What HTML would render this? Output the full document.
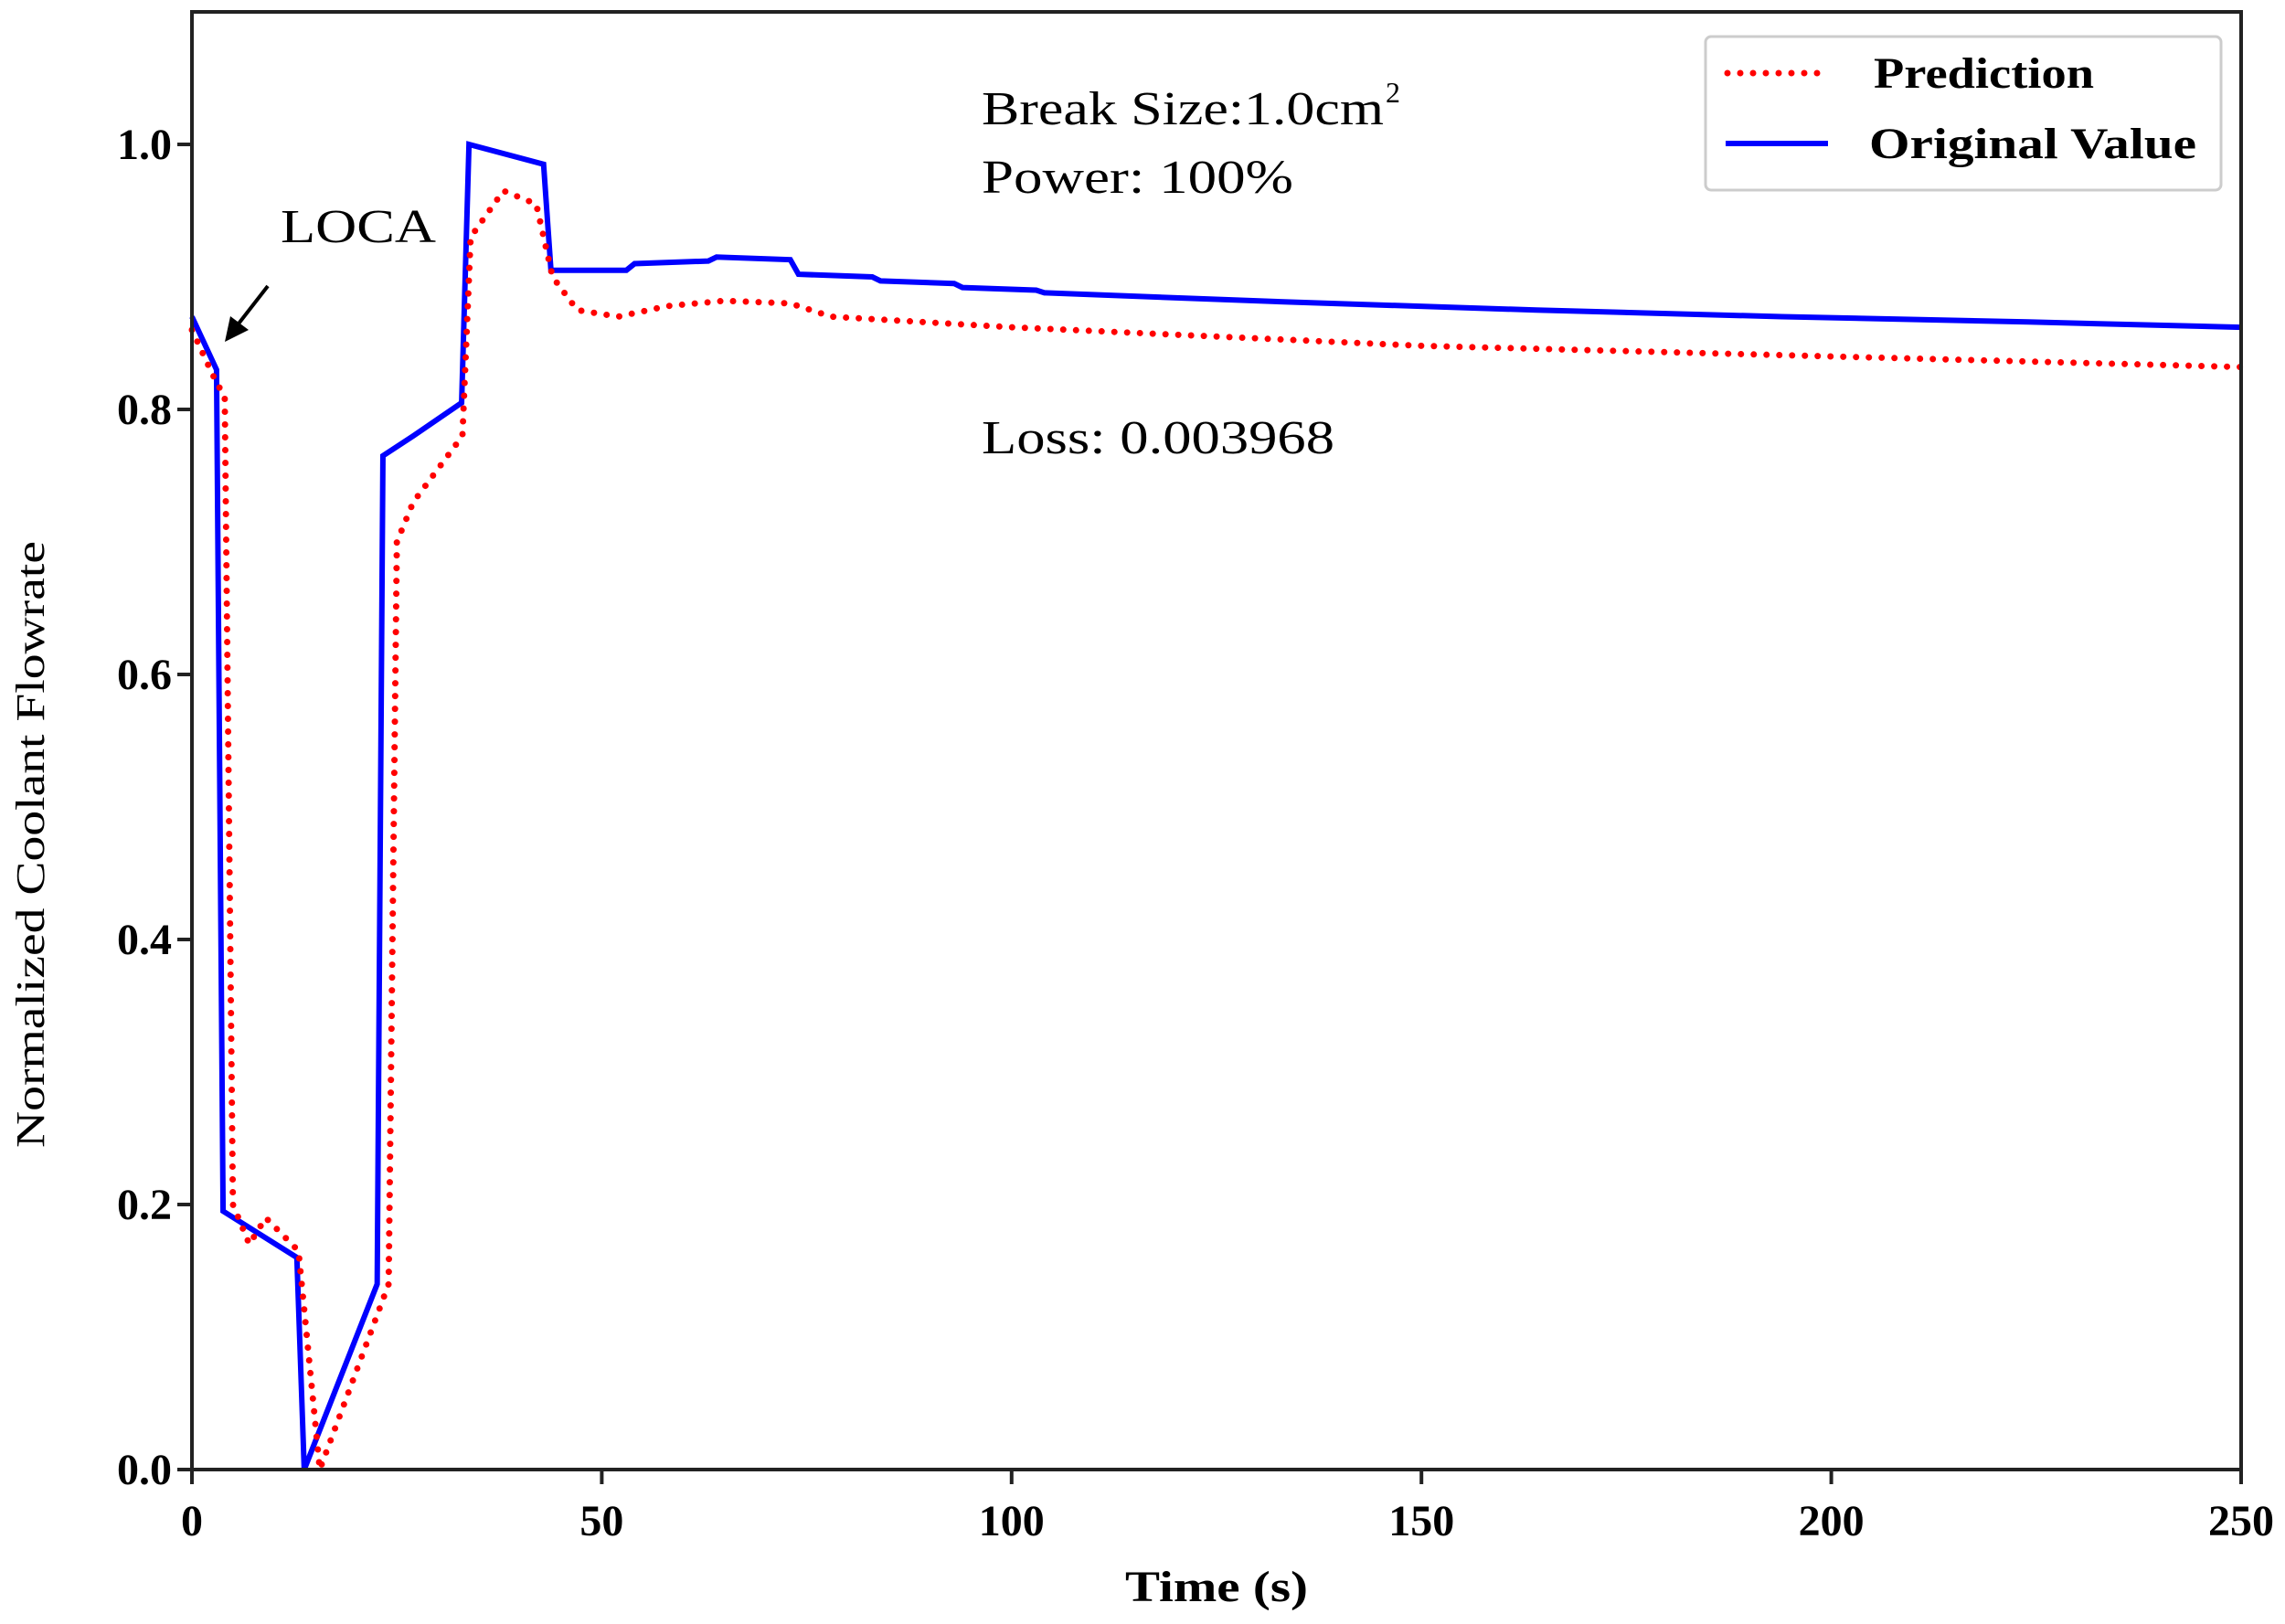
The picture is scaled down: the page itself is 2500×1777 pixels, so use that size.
<!DOCTYPE html>
<html><head><meta charset="utf-8"><style>
html,body{margin:0;padding:0;background:#fff;}
svg{display:block;font-family:"Liberation Serif",serif;}
</style></head><body>
<svg id="chart" width="2500" height="1777" viewBox="0 0 2500 1777">
<g id="plot"></g>
<g id="axes"></g>
<text x="1074" y="136" font-size="52" textLength="440" lengthAdjust="spacingAndGlyphs">Break Size:1.0cm</text>
<text x="1516" y="112" font-size="32">2</text>
<text x="1074" y="211" font-size="52" textLength="341" lengthAdjust="spacingAndGlyphs">Power: 100%</text>
<text x="1074" y="496" font-size="52" textLength="386" lengthAdjust="spacingAndGlyphs">Loss: 0.003968</text>
<text x="307" y="265" font-size="52" textLength="170" lengthAdjust="spacingAndGlyphs">LOCA</text>
<g>
<line x1="293" y1="313" x2="258" y2="358" stroke="#000" stroke-width="4"/>
<polygon points="246,374 252,346 272,361" fill="#000"/>
</g>
<g>
<rect x="1866" y="40" width="564" height="168" rx="6" fill="#fff" stroke="#ccc" stroke-width="3"/>
<line x1="1890" y1="80" x2="1998" y2="80" stroke="#f00" stroke-width="7" stroke-dasharray="0 14" stroke-linecap="round"/>
<text x="2050" y="96" font-size="48" font-weight="bold" textLength="241" lengthAdjust="spacingAndGlyphs">Prediction</text>
<line x1="1888" y1="157" x2="2000" y2="157" stroke="#00f" stroke-width="6"/>
<text x="2045" y="173" font-size="48" font-weight="bold" textLength="358" lengthAdjust="spacingAndGlyphs">Original Value</text>
</g>
<text x="1331" y="1752" font-size="48" font-weight="bold" text-anchor="middle" textLength="200" lengthAdjust="spacingAndGlyphs">Time (s)</text>
<text transform="translate(48,924) rotate(-90)" font-size="44" text-anchor="middle" textLength="664" lengthAdjust="spacingAndGlyphs">Normalized Coolant Flowrate</text>
</svg>
<script>
const timeOrig = [0,3,3.8,12.8,13.7,22.6,23.3,27,32.9,33.8,42.9,43.8,53,54,63,64,73,74,83,84,93,94,103,104,134,164,194,224,250];
const valOrig  = [0.87,0.83,0.195,0.16,0.0,0.14,0.765,0.78,0.805,1.0,0.985,0.905,0.905,0.91,0.912,0.915,0.913,0.902,0.9,0.897,0.895,0.892,0.89,0.888,0.881,0.875,0.87,0.866,0.862];
const timePred = [0,3,4,5,7,9,13,15.6,24,25,27,33,34,38,42,44,47,52,58,65,73,78,100,150,200,250];
const valPred  = [0.86,0.82,0.81,0.2,0.17,0.19,0.165,0.0,0.14,0.7,0.73,0.78,0.93,0.965,0.955,0.9,0.875,0.87,0.878,0.882,0.88,0.87,0.862,0.848,0.84,0.832];
const xTicks = [0,50,100,150,200,250];
const yTicks = [0.0,0.2,0.4,0.6,0.8,1.0];
const yTickLabels = ["0.0","0.2","0.4","0.6","0.8","1.0"];

const L=210,R=2452,T=13,B=1608;
const xs=t=>L+(t/250)*(R-L);
const ys=v=>B-v*1450;
const NS="http://www.w3.org/2000/svg";
const plot=document.getElementById('plot'), axes=document.getElementById('axes');
function mk(tag,attrs,parent){const e=document.createElementNS(NS,tag);for(const k in attrs)e.setAttribute(k,attrs[k]);parent.appendChild(e);return e;}

const pOrig=mk('polyline',{points:timeOrig.map((t,i)=>xs(t)+','+ys(valOrig[i])).join(' '),fill:'none',stroke:'#00f','stroke-width':6,'stroke-linejoin':'miter'},plot);


const pPred=mk('polyline',{points:timePred.map((t,i)=>xs(t)+','+ys(valPred[i])).join(' '),fill:'none',stroke:'#f00','stroke-width':7,'stroke-dasharray':'0 14','stroke-linecap':'round'},plot);



const frame=mk('rect',{x:L,y:T,width:R-L,height:B-T,fill:'none',stroke:'#222','stroke-width':4},axes);


xTicks.forEach(t=>{
  const l=mk('line',{x1:xs(t),x2:xs(t),y1:B,y2:B+16,stroke:'#222','stroke-width':4},axes);
  
  
  const tx=mk('text',{x:xs(t),y:1680,'font-size':48,'font-weight':'bold','text-anchor':'middle'},axes);
  tx.textContent=t;
  
  
});
yTicks.forEach((v,i)=>{
  const l=mk('line',{x1:L-16,x2:L,y1:ys(v),y2:ys(v),stroke:'#222','stroke-width':4},axes);
  
  
  const tx=mk('text',{x:188,y:ys(v)+16,'font-size':48,'font-weight':'bold','text-anchor':'end'},axes);
  tx.textContent=yTickLabels[i];
  
  
});
</script>
</body></html>
